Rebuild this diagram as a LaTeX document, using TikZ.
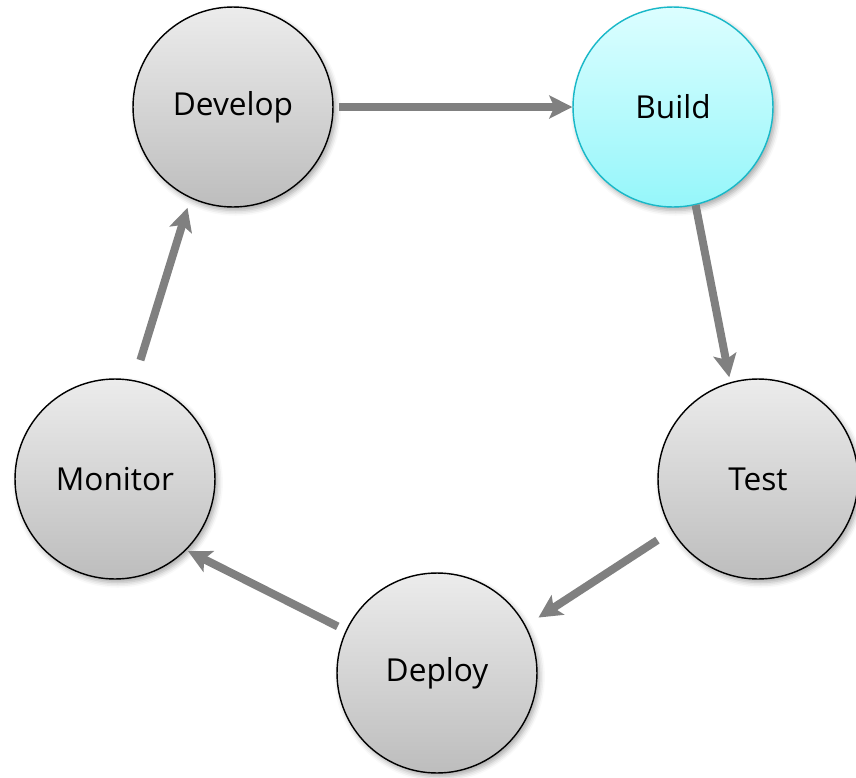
\documentclass[tikz,border=0pt]{standalone}
\usepackage{fontspec}
\setmainfont{Open Sans}
\usetikzlibrary{arrows.meta,shadows.blur}

\definecolor{stagetop}{HTML}{ECECEC}
\definecolor{stagebottom}{HTML}{BDBDBD}
\definecolor{buildtop}{HTML}{DCFEFF}
\definecolor{buildbottom}{HTML}{95F6FA}
\definecolor{buildline}{HTML}{18B8C8}
\definecolor{arrowgray}{HTML}{808080}

\begin{document}
\begin{tikzpicture}[x=0.02cm, y=-0.02cm]

\tikzset{stagebox/.style={draw, circle, minimum size=4cm, line width=0.8pt, top color=stagetop, bottom color=stagebottom, blur shadow={shadow xshift=1.5pt, shadow yshift=-2pt, shadow opacity=35, shadow blur radius=3pt}, font=\fontsize{18}{22}\selectfont}}
\tikzset{stagearrow/.style={draw=arrowgray, line width=0.16cm, -{Stealth[length=0.46cm, width=0.46cm, inset=0.1cm]}}}

\useasboundingbox (0,0) rectangle (856,778);

% pipeline stages
\node[stagebox] at (233, 107) (develop) {Develop};
\node[stagebox, draw=buildline, top color=buildtop, bottom color=buildbottom] at (673, 107) (build) {Build};
\node[stagebox] at (758, 479) (test) {Test};
\node[stagebox] at (437, 673) (deploy) {Deploy};
\node[stagebox] at (115, 479) (monitor) {Monitor};

% cycle
\draw[stagearrow, shorten <=0.1cm] (develop.east) -- (build.west);
\draw[stagearrow, shorten >=0.1cm] (build.283) -- (test.106);
\draw[stagearrow, shorten <=0.34cm, shorten >=0.3cm] (test.211) -- (deploy.28);
\draw[stagearrow, shorten <=0.18cm, shorten >=0.04cm] (deploy.155) -- (monitor.315);
\draw[stagearrow, shorten <=0.42cm, shorten >=0.2cm] (monitor.79) -- (develop.245);

\end{tikzpicture}
\end{document}
